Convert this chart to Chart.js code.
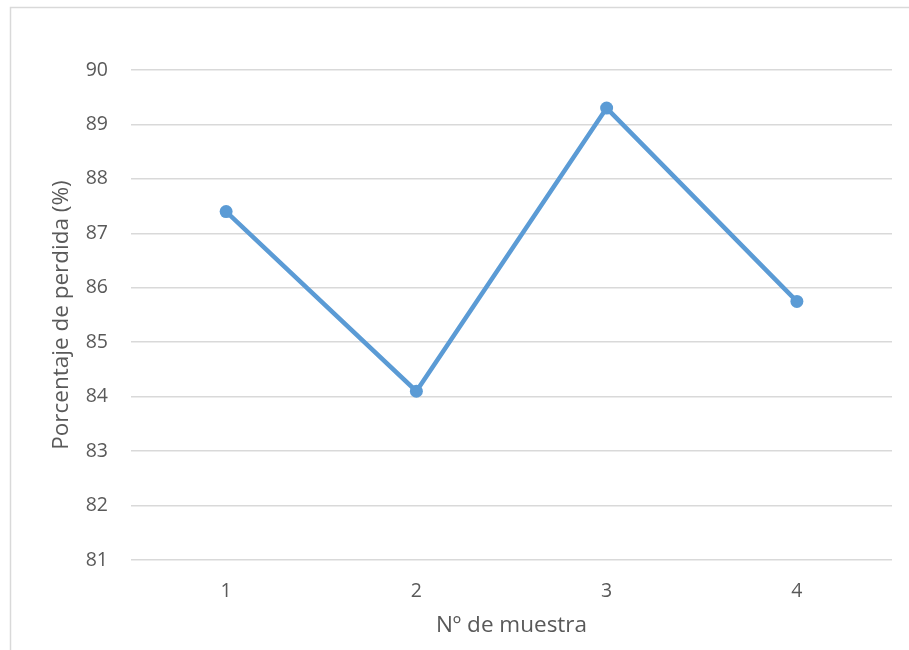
<!DOCTYPE html>
<html>
<head>
<meta charset="utf-8">
<script src="https://cdn.jsdelivr.net/npm/chart.js@4/dist/chart.umd.min.js"></script>
<style>
  html, body { margin: 0; padding: 0; background: #ffffff; }
  #wrap { position: relative; width: 909px; height: 650px; }
</style>
</head>
<body>
<div id="wrap"><canvas id="c" width="909" height="650"></canvas></div>
<script>
const categories = ["1", "2", "3", "4"];
const perdida = [87.4, 84.1, 89.3, 85.75];
const yMin = 81;
const yMax = 90;

const FONT = "'Open Sans', sans-serif";
const TEXT = "#595959";
const GRID = "#D9D9D9";
const LINE = "#5B9BD5";

// Thin frame along the top and left edge of the chart box
const framePlugin = {
  id: "frame",
  beforeDraw(chart) {
    const ctx = chart.ctx;
    ctx.save();
    ctx.strokeStyle = GRID;
    ctx.lineWidth = 1.5;
    ctx.beginPath();
    ctx.moveTo(10.5, 650);
    ctx.lineTo(10.5, 7.5);
    ctx.lineTo(909, 7.5);
    ctx.stroke();
    ctx.restore();
  }
};

new Chart(document.getElementById("c"), {
  type: "line",
  data: {
    labels: categories,
    datasets: [{
      data: perdida,
      borderColor: LINE,
      backgroundColor: LINE,
      borderWidth: 4.5,
      pointRadius: 6.5,
      pointBackgroundColor: LINE,
      pointBorderColor: LINE,
      pointBorderWidth: 0,
      tension: 0,
      fill: false
    }]
  },
  options: {
    responsive: false,
    animation: false,
    layout: { padding: { left: 0, top: 70, right: 17, bottom: 0 } },
    plugins: {
      legend: { display: false },
      tooltip: { enabled: false }
    },
    scales: {
      x: {
        type: "category",
        offset: true,
        afterFit(scale) { scale.height = 90; },
        grid: { display: false, drawTicks: false },
        border: { display: false },
        ticks: {
          color: TEXT,
          font: { family: FONT, size: 19.5 },
          padding: 20,
          maxRotation: 0
        },
        title: {
          display: true,
          text: "Nº de muestra",
          color: TEXT,
          font: { family: FONT, size: 22.5 },
          padding: { top: 0, bottom: 11 }
        }
      },
      y: {
        min: yMin,
        max: yMax,
        afterFit(scale) { scale.width = 131; },
        grid: { color: GRID, lineWidth: 1.5, drawTicks: false },
        border: { display: false },
        ticks: {
          stepSize: 1,
          color: TEXT,
          font: { family: FONT, size: 19.5 },
          padding: 23
        },
        title: {
          display: true,
          text: "Porcentaje de perdida (%)",
          color: TEXT,
          font: { family: FONT, size: 22.5 },
          padding: { top: 48, bottom: 0 }
        }
      }
    }
  },
  plugins: [framePlugin]
});
</script>
</body>
</html>
